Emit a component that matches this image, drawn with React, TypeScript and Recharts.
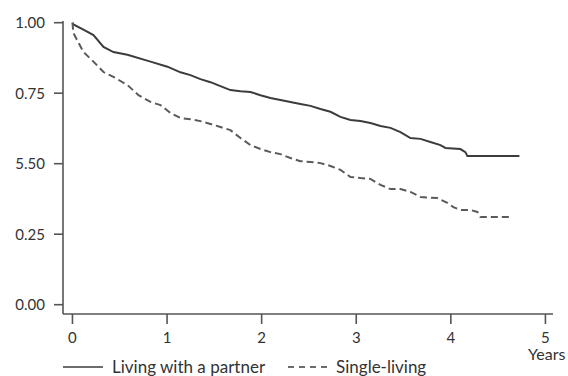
import { LineChart, Line, XAxis, YAxis } from 'recharts';

const partnerYears = [0, 0.01, 0.116, 0.222, 0.328, 0.433, 0.581, 0.825, 1.004, 1.142, 1.247, 1.353, 1.459, 1.564, 1.67, 1.776, 1.882, 1.987, 2.093, 2.199, 2.304, 2.41, 2.516, 2.622, 2.727, 2.833, 2.939, 3.044, 3.15, 3.256, 3.362, 3.467, 3.573, 3.679, 3.784, 3.89, 3.943, 4.101, 4.154, 4.175, 4.725];
const partnerSurvival = [1.0, 0.994, 0.975, 0.956, 0.914, 0.896, 0.886, 0.862, 0.844, 0.824, 0.814, 0.8, 0.789, 0.775, 0.761, 0.757, 0.754, 0.743, 0.733, 0.726, 0.719, 0.712, 0.705, 0.694, 0.684, 0.666, 0.655, 0.651, 0.644, 0.634, 0.627, 0.612, 0.591, 0.588, 0.577, 0.566, 0.556, 0.552, 0.541, 0.527, 0.527];

const singleYears = [0, 0.01, 0.116, 0.222, 0.328, 0.433, 0.581, 0.698, 0.825, 0.93, 1.036, 1.142, 1.247, 1.353, 1.459, 1.564, 1.67, 1.776, 1.882, 1.987, 2.093, 2.199, 2.304, 2.41, 2.516, 2.622, 2.727, 2.833, 2.939, 3.044, 3.15, 3.256, 3.362, 3.467, 3.573, 3.679, 3.858, 3.964, 4.027, 4.101, 4.207, 4.281, 4.313, 4.651];
const singleSurvival = [1.0, 0.963, 0.896, 0.862, 0.825, 0.808, 0.779, 0.743, 0.719, 0.708, 0.68, 0.662, 0.658, 0.651, 0.641, 0.63, 0.619, 0.591, 0.566, 0.552, 0.541, 0.534, 0.52, 0.509, 0.506, 0.502, 0.492, 0.478, 0.453, 0.449, 0.446, 0.425, 0.41, 0.41, 0.4, 0.382, 0.378, 0.361, 0.346, 0.336, 0.336, 0.329, 0.311, 0.311];

const xTicks = [0, 1, 2, 3, 4, 5];
const yTicks = [0, 0.25, 0.5, 0.75, 1];
const yTickLabels = ['0.00', '0.25', '5.50', '0.75', '1.00'];

const partnerData = partnerYears.map((t, i) => ({ t, s: partnerSurvival[i] }));
const singleData = singleYears.map((t, i) => ({ t, s: singleSurvival[i] }));

const font = 'Lato, "Open Sans", sans-serif';
const axisColor = '#555';
const tickStyle = { fill: '#333', fontSize: 15, fontFamily: font };

export default function App() {
  return (
    <div style={{ position: 'absolute', left: 0, top: 0, width: 568, height: 376, background: '#fff', overflow: 'hidden' }}>
      <LineChart width={568} height={376} margin={{ top: 21, right: 15, left: 0, bottom: 0 }}>
        <XAxis
          dataKey="t"
          type="number"
          domain={[-0.1, 5.08]}
          ticks={xTicks}
          allowDataOverflow
          height={62}
          tickSize={10}
          tickMargin={8}
          stroke={axisColor}
          strokeWidth={1.6}
          tick={tickStyle}
          allowDuplicatedCategory={false}
        />
        <YAxis
          dataKey="s"
          type="number"
          domain={[-0.033, 1.006]}
          ticks={yTicks}
          allowDataOverflow
          width={63}
          tickSize={9}
          tickMargin={9}
          stroke={axisColor}
          strokeWidth={1.6}
          tick={tickStyle}
          tickFormatter={(v: number) => yTickLabels[yTicks.indexOf(v)] ?? ''}
        />
        <Line data={partnerData} dataKey="s" type="linear" stroke="#3c3c3c" strokeWidth={2} dot={false} isAnimationActive={false} />
        <Line data={singleData} dataKey="s" type="linear" stroke="#5a5a5a" strokeWidth={2} strokeDasharray="7 4" dot={false} isAnimationActive={false} />
      </LineChart>
      <div style={{ position: 'absolute', left: 528, top: 346, fontFamily: font, fontSize: 16, color: '#333', lineHeight: '16px' }}>Years</div>
      <div style={{ position: 'absolute', left: 63, top: 358, display: 'flex', alignItems: 'center', fontFamily: font, fontSize: 17, color: '#333', lineHeight: '17px', whiteSpace: 'nowrap' }}>
        <svg width={40} height={4} style={{ marginRight: 9 }}>
          <line x1={0} y1={2} x2={40} y2={2} stroke="#3c3c3c" strokeWidth={1.6} />
        </svg>
        <span>Living with a partner</span>
        <svg width={41} height={4} style={{ marginLeft: 23, marginRight: 7 }}>
          <line x1={0} y1={2} x2={41} y2={2} stroke="#3c3c3c" strokeWidth={1.6} strokeDasharray="6 5" />
        </svg>
        <span>Single-living</span>
      </div>
    </div>
  );
}
